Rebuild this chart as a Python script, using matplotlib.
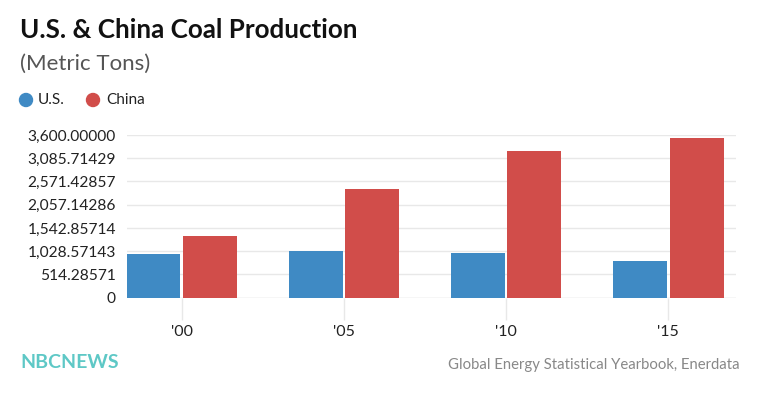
import matplotlib.pyplot as plt
from matplotlib.patches import Ellipse

plt.rcParams['font.family'] = ['Lato', 'DejaVu Sans']

years = ["'00", "'05", "'10", "'15"]
us = [967, 1033, 989, 812]
china = [1372, 2412, 3239, 3534]
yticks = [0, 514.28571, 1028.57143, 1542.85714, 2057.14286, 2571.42857, 3085.71429, 3600.0]
ytick_labels = ['0', '514.28571', '1,028.57143', '1,542.85714', '2,057.14286',
                '2,571.42857', '3,085.71429', '3,600.00000']

blue = '#3f8ac4'
red = '#d14d4a'
grid_col = '#e8e8e8'

fig = plt.figure(figsize=(7.6, 3.99), dpi=100)
ax = fig.add_axes([127 / 760, 1 - 297.7 / 399, (736 - 127) / 760, (297.7 - 135) / 399])

x = list(range(len(years)))
w = 0.333
gap = 0.008
ax.bar([i - w / 2 - gap for i in x], us, width=w, color=blue, zorder=3)
ax.bar([i + w / 2 + gap for i in x], china, width=w, color=red, zorder=3)

ax.set_xlim(-0.337, 3.417)
ax.set_ylim(0, 3600)
ax.set_yticks(yticks)
ax.set_yticklabels(ytick_labels)
ax.set_xticks(x)
ax.set_xticklabels(years)
ax.yaxis.grid(True, color=grid_col, linewidth=1, zorder=0)
for s in ax.spines.values():
    s.set_visible(False)
ax.tick_params(axis='y', length=0, pad=8, labelsize=11.2, labelcolor='#222222')
ax.tick_params(axis='x', length=16, width=1, color=grid_col, pad=4,
               labelsize=11.5, labelcolor='#222222')
ax.axhline(0, color=grid_col, linewidth=1, zorder=1)

fig.text(20 / 760, 1 - 30 / 399, 'U.S. & China Coal Production', fontsize=18.7,
         fontweight='bold', color='#111111', va='center')
fig.text(20 / 760, 1 - 64 / 399, '(Metric Tons)', fontsize=16, color='#555555', va='center')

# legend
for cx, col in [(26, blue), (93, red)]:
    fig.patches.append(Ellipse((cx / 760, 1 - 100 / 399), 13 / 760, 13 / 399, color=col,
                               transform=fig.transFigure, figure=fig))
fig.text(38 / 760, 1 - 100 / 399, 'U.S.', fontsize=11, color='#222222', va='center')
fig.text(106 / 760, 1 - 100 / 399, 'China', fontsize=11, color='#222222', va='center')

fig.text(20 / 760, 1 - 363 / 399, 'NBCNEWS', fontsize=14, fontweight='bold',
         color='#5ec8c6', va='center')
fig.text(740 / 760, 1 - 365 / 399, 'Global Energy Statistical Yearbook, Enerdata',
         fontsize=10.7, color='#888888', va='center', ha='right')

fig.savefig('out.png', dpi=100)
